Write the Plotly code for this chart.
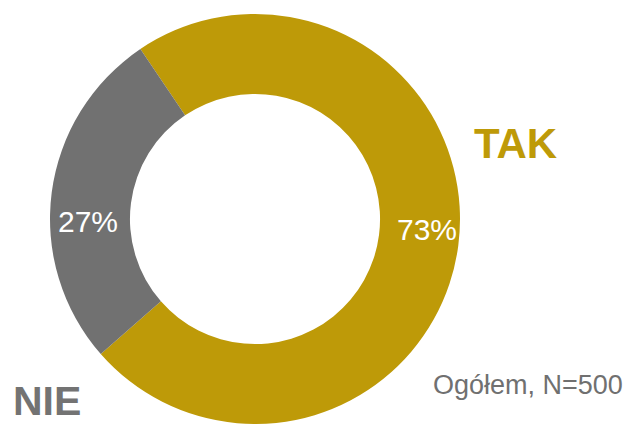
import plotly.graph_objects as go

labels = ["TAK", "NIE"]
values = [73, 27]
colors = ["#BE9A08", "#717171"]
note = "Ogółem, N=500"

W, H = 633, 424
cx, cy, r = 255, 219, 205

fig = go.Figure(go.Pie(
    labels=labels, values=values, sort=False, direction="clockwise",
    rotation=-34, hole=0.61,
    marker=dict(colors=colors, line=dict(width=0)),
    textinfo="none", hoverinfo="label+percent",
    domain=dict(x=[(cx - r) / W, (cx + r) / W], y=[(H - cy - r) / H, (H - cy + r) / H]),
    showlegend=False,
))

font = "Arial, Liberation Sans, sans-serif"
ann = [
    dict(x=427 / W, y=1 - 229 / H, text=f"{values[0]}%", font=dict(size=30, color="white", family=font)),
    dict(x=88 / W, y=1 - 221 / H, text=f"{values[1]}%", font=dict(size=30, color="white", family=font)),
    dict(x=515 / W, y=1 - 144 / H, text=f"<b>{labels[0]}</b>", font=dict(size=42, color=colors[0], family=font)),
    dict(x=47 / W, y=1 - 401 / H, text=f"<b>{labels[1]}</b>", font=dict(size=41, color="#737373", family=font)),
    dict(x=528 / W, y=1 - 385 / H, text=note, font=dict(size=27, color="#707070", family=font)),
]
for a in ann:
    a.update(xref="paper", yref="paper", showarrow=False, xanchor="center", yanchor="middle")

fig.update_layout(
    width=W, height=H, margin=dict(l=0, r=0, t=0, b=0),
    paper_bgcolor="white", plot_bgcolor="white", annotations=ann,
)
fig.write_html("out.html", config={"displayModeBar": False},
               post_script="document.body.style.margin='0';document.body.style.overflow='hidden';")
